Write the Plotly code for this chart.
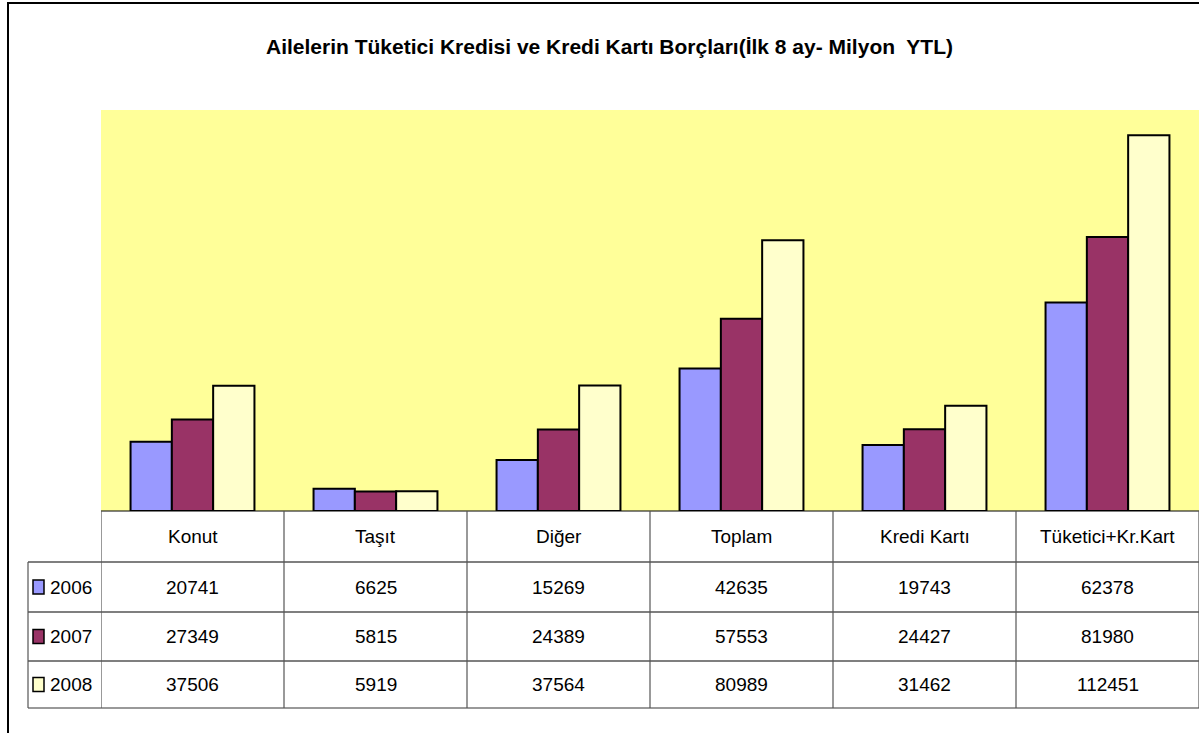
import plotly.graph_objects as go

# Household consumer credit and credit-card debt, first 8 months (million YTL)
categories = ["Konut", "Taşıt", "Diğer", "Toplam", "Kredi Kartı", "Tüketici+Kr.Kart"]
years = ["2006", "2007", "2008"]
values_2006 = [20741, 6625, 15269, 42635, 19743, 62378]
values_2007 = [27349, 5815, 24389, 57553, 24427, 81980]
values_2008 = [37506, 5919, 37564, 80989, 31462, 112451]
series = [values_2006, values_2007, values_2008]
colors = ["#9999FF", "#993366", "#FFFFCC"]

W, H = 1199, 733
FONT = "Liberation Sans, Arial, sans-serif"


def py(pixel_y):
    """Convert a pixel row (from top) to paper y."""
    return 1 - pixel_y / H


def px(pixel_x):
    return pixel_x / W


plot_left, plot_top, plot_bottom = 101, 110, 511
row_edges = [511, 562, 612, 661, 708]

fig = go.Figure()
for name, vals, col in zip(years, series, colors):
    fig.add_trace(go.Bar(
        x=categories, y=vals, name=name,
        marker=dict(color=col, line=dict(color="#000000", width=2)),
        showlegend=False,
    ))

shapes = []
annotations = []

# outer chart frame
shapes.append(dict(type="rect", xref="paper", yref="paper",
                   x0=px(8), x1=px(1215), y0=py(3), y1=py(750),
                   line=dict(color="#000000", width=2), fillcolor="rgba(0,0,0,0)"))

# data table: horizontal rules
shapes.append(dict(type="line", xref="paper", yref="paper",
                   x0=px(plot_left), x1=1, y0=py(row_edges[0]), y1=py(row_edges[0]),
                   line=dict(color="#000000", width=1.2)))
for r in row_edges[1:4]:
    shapes.append(dict(type="line", xref="paper", yref="paper",
                       x0=px(28), x1=1, y0=py(r), y1=py(r),
                       line=dict(color="#000000", width=1.2)))
shapes.append(dict(type="line", xref="paper", yref="paper",
                   x0=px(28), x1=1, y0=py(row_edges[4]), y1=py(row_edges[4]),
                   line=dict(color="#777777", width=1.5)))

# data table: vertical rules at category boundaries
for i in range(len(categories) + 1):
    shapes.append(dict(type="line", xref="x", yref="paper",
                       x0=i - 0.5, x1=i - 0.5, y0=py(row_edges[0]), y1=py(row_edges[4]),
                       line=dict(color="#555555", width=1.2)))
shapes.append(dict(type="line", xref="paper", yref="paper",
                   x0=px(28), x1=px(28), y0=py(row_edges[1]), y1=py(row_edges[4]),
                   line=dict(color="#555555", width=1.2)))

# header row: category names
for c in categories:
    annotations.append(dict(x=c, xref="x", y=py((row_edges[0] + row_edges[1]) / 2), yref="paper",
                            text=c, showarrow=False, xanchor="center", yanchor="middle",
                            font=dict(family=FONT, size=19, color="#000000")))

# value rows with legend keys
for k, (name, vals, col) in enumerate(zip(years, series, colors)):
    top, bot = row_edges[k + 1], row_edges[k + 2]
    mid = (top + bot) / 2
    for c, v in zip(categories, vals):
        annotations.append(dict(x=c, xref="x", y=py(mid), yref="paper",
                                text=str(v), showarrow=False, xanchor="center", yanchor="middle",
                                font=dict(family=FONT, size=19, color="#000000")))
    shapes.append(dict(type="rect", xref="paper", yref="paper",
                       x0=px(33), x1=px(44), y0=py(mid - 7), y1=py(mid + 7),
                       fillcolor=col, line=dict(color="#000000", width=1.5)))
    annotations.append(dict(x=px(48), xref="paper", y=py(mid), yref="paper",
                            text=name, showarrow=False, xanchor="left", yanchor="middle",
                            font=dict(family=FONT, size=19, color="#000000")))

# title
annotations.append(dict(x=px(609), xref="paper", y=py(47), yref="paper",
                        text="<b>Ailelerin Tüketici Kredisi ve Kredi Kartı Borçları(İlk 8 ay- Milyon  YTL)</b>",
                        showarrow=False, xanchor="center", yanchor="middle",
                        font=dict(family=FONT, size=21, color="#000000")))

fig.update_layout(
    width=W, height=H,
    margin=dict(l=0, r=0, t=0, b=0),
    paper_bgcolor="#FFFFFF",
    plot_bgcolor="#FFFF99",
    barmode="group",
    bargap=0.323,
    bargroupgap=0,
    xaxis=dict(domain=[px(plot_left), 1], range=[-0.5, 5.5], showticklabels=False,
               showgrid=False, zeroline=False, showline=False, ticks=""),
    yaxis=dict(domain=[py(plot_bottom), py(plot_top)], range=[0, 120000], showticklabels=False,
               showgrid=False, zeroline=False, showline=False, ticks=""),
    shapes=shapes,
    annotations=annotations,
)

fig.write_html("out.html")
